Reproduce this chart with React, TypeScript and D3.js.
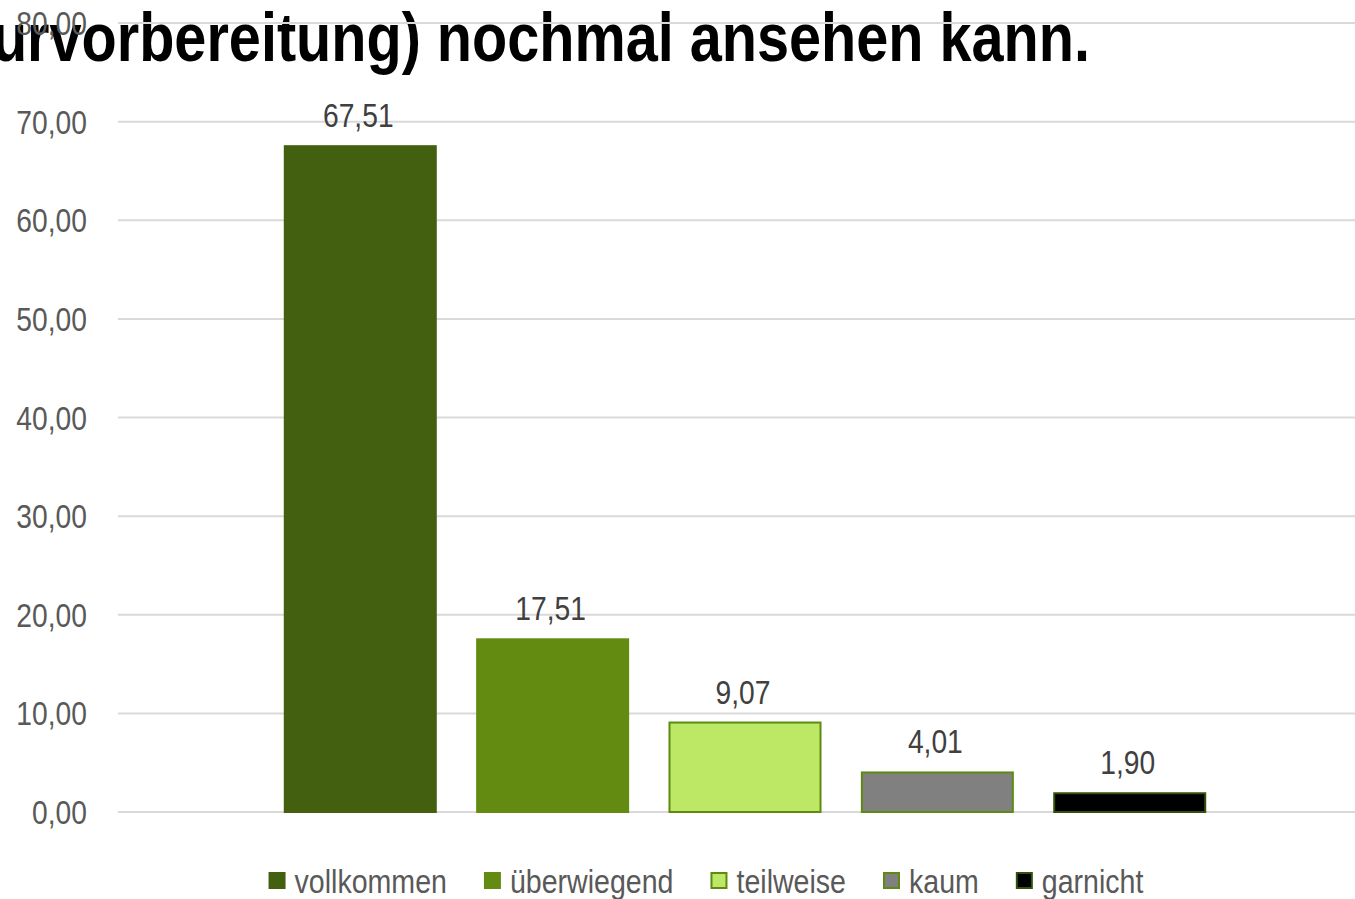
import React, { useEffect, useRef } from 'react';
import * as d3 from 'd3';

const categories = ['vollkommen', 'überwiegend', 'teilweise', 'kaum', 'garnicht'];
const values = [67.51, 17.51, 9.07, 4.01, 1.9];
const fills = ['#426010', '#638b12', '#bde865', '#808080', '#000000'];
const strokes = ['#426010', '#638b12', '#5e8a12', '#5e8a12', '#34500c'];
const yTicks = [0, 10, 20, 30, 40, 50, 60, 70, 80];
const titleText = 'Klausurvorbereitung) nochmal ansehen kann.';

const W = 1355;
const H = 899;
const FONT = '"Liberation Sans", Arial, sans-serif';
const fmt = (v: number) => v.toFixed(2).replace('.', ',');

// shrink text horizontally to mimic Arial Narrow; returns the new width
function narrow(sel: d3.Selection<SVGTextElement, any, any, any>, k = 0.83) {
  let w = 0;
  sel.each(function () {
    const len = this.getComputedTextLength();
    w = len * k;
    d3.select(this)
      .attr('textLength', w)
      .attr('lengthAdjust', 'spacingAndGlyphs');
  });
  return w;
}

const App = () => {
  const ref = useRef<SVGSVGElement>(null);

  useEffect(() => {
    const svg = d3.select(ref.current);
    svg.selectAll('*').remove();

    const x = d3
      .scaleBand<string>()
      .domain(categories)
      .range([118, 1372])
      .paddingInner(0.215)
      .paddingOuter(0.867);

    const y = d3.scaleLinear().domain([0, 80]).range([812, 23]);

    // title (cut off at the left, like the source)
    const title = svg
      .append('text')
      .attr('x', 1090)
      .attr('y', 61)
      .attr('text-anchor', 'end')
      .style('font-family', FONT)
      .style('font-weight', 'bold')
      .style('font-size', '69px')
      .style('fill', '#000')
      .text(titleText);
    narrow(title, 0.835);

    // gridlines
    svg
      .selectAll('.grid')
      .data(yTicks)
      .enter()
      .append('line')
      .attr('x1', 118)
      .attr('x2', W)
      .attr('y1', (d) => y(d))
      .attr('y2', (d) => y(d))
      .style('stroke', '#d9d9d9')
      .style('stroke-width', 2);

    // y tick labels
    svg
      .selectAll('.tick')
      .data(yTicks)
      .enter()
      .append('text')
      .attr('x', 87)
      .attr('y', (d) => y(d) + 12)
      .attr('text-anchor', 'end')
      .style('font-family', FONT)
      .style('font-size', '34px')
      .style('fill', '#595959')
      .text((d) => fmt(d))
      .each(function () {
        narrow(d3.select(this));
      });

    // bars
    svg
      .selectAll('.bar')
      .data(values)
      .enter()
      .append('rect')
      .attr('x', (_, i) => x(categories[i])!)
      .attr('y', (d) => y(d))
      .attr('width', x.bandwidth())
      .attr('height', (d) => y(0) - y(d))
      .style('fill', (_, i) => fills[i])
      .style('stroke', (_, i) => strokes[i])
      .style('stroke-width', 2);

    // value labels
    svg
      .selectAll('.label')
      .data(values)
      .enter()
      .append('text')
      .attr('x', (_, i) => x(categories[i])! + x.bandwidth() / 2 - 2)
      .attr('y', (d) => y(d) - 19)
      .attr('text-anchor', 'middle')
      .style('font-family', FONT)
      .style('font-size', '34px')
      .style('fill', '#404040')
      .text((d) => fmt(d))
      .each(function () {
        narrow(d3.select(this));
      });

    // legend, laid out from the measured text widths
    const legend = svg.append('g');
    let cursor = 0;
    categories.forEach((c, i) => {
      const item = legend.append('g').attr('transform', `translate(${cursor},0)`);
      item
        .append('rect')
        .attr('x', 1)
        .attr('y', 873)
        .attr('width', 15)
        .attr('height', 15)
        .style('fill', fills[i])
        .style('stroke', strokes[i])
        .style('stroke-width', 2);
      const t = item
        .append('text')
        .attr('x', 26)
        .attr('y', 893)
        .style('font-family', FONT)
        .style('font-size', '34px')
        .style('fill', '#595959')
        .text(c);
      const tw = narrow(t, 0.84);
      cursor += 26 + tw + 37;
    });
    const total = cursor - 37;
    legend.attr('transform', `translate(${706 - total / 2},0)`);
  }, []);

  return (
    <svg
      ref={ref}
      width={W}
      height={H}
      style={{ position: 'absolute', left: 0, top: 0, background: '#fff' }}
    />
  );
};

export default App;
